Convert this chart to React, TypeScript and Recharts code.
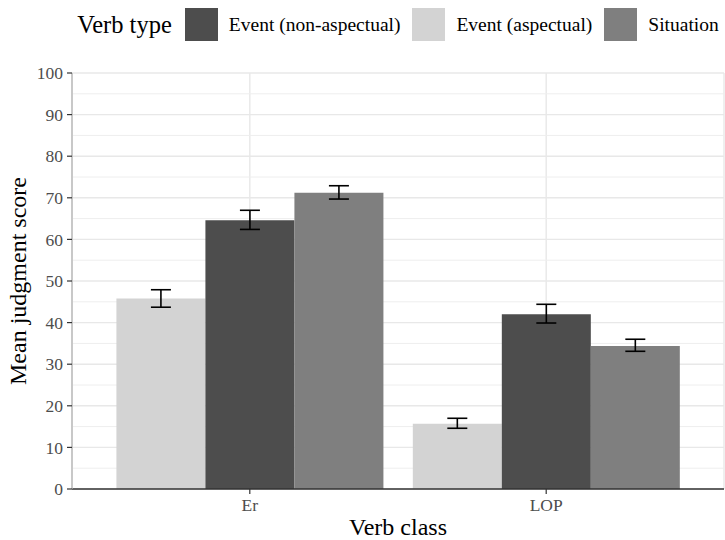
import React from 'react';
import { BarChart, Bar, XAxis, YAxis, CartesianGrid, ErrorBar, ReferenceLine } from 'recharts';

const categories = ['Er', 'LOP'];
const aspMean = [45.8, 15.7];
const aspLow = [43.7, 14.6];
const aspHigh = [47.9, 17.0];
const nonMean = [64.6, 42.0];
const nonLow = [62.4, 39.9];
const nonHigh = [67.0, 44.4];
const sitMean = [71.2, 34.4];
const sitLow = [69.7, 33.1];
const sitHigh = [72.9, 36.0];
const yTicks = [0, 10, 20, 30, 40, 50, 60, 70, 80, 90, 100];
const minorTicks = [5, 15, 25, 35, 45, 55, 65, 75, 85, 95];

const legendItems = [
  { label: 'Event (non-aspectual)', color: '#4d4d4d' },
  { label: 'Event (aspectual)', color: '#d3d3d3' },
  { label: 'Situation', color: '#7f7f7f' },
];

const data = categories.map((cat, i) => ({
  cat,
  asp: aspMean[i],
  aspErr: [aspMean[i] - aspLow[i], aspHigh[i] - aspMean[i]],
  non: nonMean[i],
  nonErr: [nonMean[i] - nonLow[i], nonHigh[i] - nonMean[i]],
  sit: sitMean[i],
  sitErr: [sitMean[i] - sitLow[i], sitHigh[i] - sitMean[i]],
}));

const FONT = "'Liberation Serif', 'DejaVu Serif', serif";

export default function App() {
  return (
    <div style={{ position: 'absolute', left: 0, top: 0, width: 725, height: 540, background: '#fff', fontFamily: FONT }}>
      <div
        style={{
          position: 'absolute',
          left: 72,
          top: 8,
          width: 652,
          height: 33,
          display: 'flex',
          alignItems: 'center',
          justifyContent: 'center',
          whiteSpace: 'nowrap',
        }}
      >
        <span style={{ fontSize: 24.5, color: '#000', marginRight: 13 }}>Verb type</span>
        {legendItems.map((it, i) => (
          <React.Fragment key={it.label}>
            <span style={{ display: 'inline-block', width: 33, height: 33, background: it.color, marginRight: 11 }} />
            <span style={{ fontSize: 19.5, color: '#000', marginRight: i < legendItems.length - 1 ? 12 : 0 }}>{it.label}</span>
          </React.Fragment>
        ))}
      </div>
      <BarChart
        width={725}
        height={540}
        data={data}
        margin={{ top: 73, right: 1, bottom: 0, left: 0 }}
        barCategoryGap="5%"
        barGap={0}
      >
        <CartesianGrid stroke="#e8e8e8" strokeWidth={1.4} />
        {minorTicks.map((v) => (
          <ReferenceLine key={v} y={v} stroke="#eeeeee" strokeWidth={1} {...({ zIndex: -10 } as any)} />
        ))}
        <XAxis
          dataKey="cat"
          padding={{ left: 29.6, right: 29.6 }}
          height={51}
          tickSize={5}
          tickMargin={5}
          axisLine={{ stroke: '#333333', strokeWidth: 1.3 }}
          tickLine={{ stroke: '#333333', strokeWidth: 1.2 }}
          tick={{ fill: '#4d4d4d', fontSize: 17.5, fontFamily: FONT }}
          label={{ value: 'Verb class', position: 'insideBottom', offset: 5, style: { fill: '#000', fontSize: 24, fontFamily: FONT } }}
        />
        <XAxis
          xAxisId="top"
          orientation="top"
          dataKey="cat"
          height={0}
          padding={{ left: 29.6, right: 29.6 }}
          tick={false}
          tickLine={false}
          axisLine={{ stroke: '#b3b3b3', strokeWidth: 1.3 }}
        />
        <YAxis
          domain={[0, 100]}
          ticks={yTicks}
          width={72}
          tickSize={5}
          tickMargin={4}
          interval={0}
          axisLine={{ stroke: '#b3b3b3', strokeWidth: 1.3 }}
          tickLine={{ stroke: '#333333', strokeWidth: 1.2 }}
          tick={{ fill: '#4d4d4d', fontSize: 17.5, fontFamily: FONT }}
          label={{ value: 'Mean judgment score', angle: -90, position: 'center', dx: -18.5, style: { fill: '#000', fontSize: 24, fontFamily: FONT, textAnchor: 'middle' } }}
        />
        <YAxis
          yAxisId="right"
          orientation="right"
          domain={[0, 100]}
          width={0}
          tick={false}
          tickLine={false}
          axisLine={{ stroke: '#333333', strokeWidth: 1.3 }}
        />
        <Bar dataKey="asp" fill="#d3d3d3" isAnimationActive={false}>
          <ErrorBar dataKey="aspErr" width={10} stroke="#000" strokeWidth={1.6} direction="y" />
        </Bar>
        <Bar dataKey="non" fill="#4d4d4d" isAnimationActive={false}>
          <ErrorBar dataKey="nonErr" width={10} stroke="#000" strokeWidth={1.6} direction="y" />
        </Bar>
        <Bar dataKey="sit" fill="#7f7f7f" isAnimationActive={false}>
          <ErrorBar dataKey="sitErr" width={10} stroke="#000" strokeWidth={1.6} direction="y" />
        </Bar>
      </BarChart>
    </div>
  );
}
